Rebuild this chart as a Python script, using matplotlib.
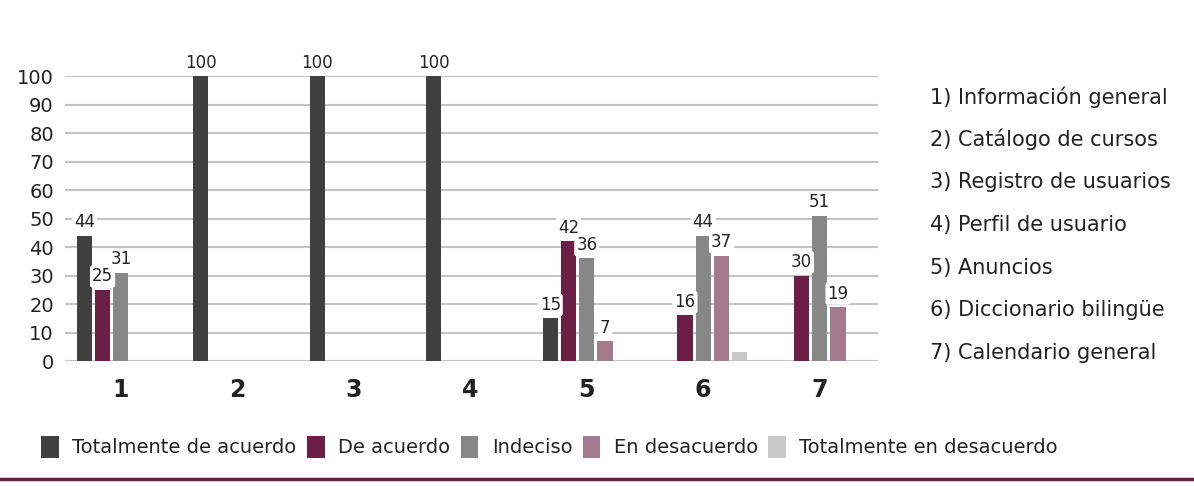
import matplotlib
matplotlib.use("Agg")
import matplotlib.pyplot as plt
import numpy as np
from matplotlib.patches import Patch
from matplotlib.lines import Line2D

groups = ["1", "2", "3", "4", "5", "6", "7"]
series = ["Totalmente de acuerdo", "De acuerdo", "Indeciso", "En desacuerdo", "Totalmente en desacuerdo"]
tot_acuerdo = [44, 100, 100, 100, 15, 0, 0]
de_acuerdo = [25, 0, 0, 0, 42, 16, 30]
indeciso = [31, 0, 0, 0, 36, 44, 51]
en_desacuerdo = [0, 0, 0, 0, 7, 37, 19]
tot_desacuerdo = [0, 0, 0, 0, 0, 3, 0]
show_label = [[True, True, True, True, True, False, False],
              [True, False, False, False, True, True, True],
              [True, False, False, False, True, True, True],
              [False, False, False, False, True, True, True],
              [False, False, False, False, False, False, False]]
items = ["1) Información general", "2) Catálogo de cursos", "3) Registro de usuarios",
         "4) Perfil de usuario", "5) Anuncios", "6) Diccionario bilingüe", "7) Calendario general"]
colors = ["#404040", "#6b1f45", "#878787", "#a67a8e", "#c8c8c8"]

data = [tot_acuerdo, de_acuerdo, indeciso, en_desacuerdo, tot_desacuerdo]

fig = plt.figure(figsize=(11.94, 4.86), dpi=100)
ax = fig.add_axes([0.0544, 0.2572, 0.6809, 0.5864])
x = np.arange(len(groups))
step = 0.157
w = 0.13
for i, vals in enumerate(data):
    pos = x + (i - 2) * step
    ax.bar(pos, vals, width=w, color=colors[i], zorder=3)
    for j, v in enumerate(vals):
        if show_label[i][j]:
            ax.text(pos[j], v + 1.5, str(v), ha="center", va="bottom", fontsize=12,
                    color="#222222", zorder=4, clip_on=False,
                    bbox=dict(boxstyle="round,pad=0.12", fc="white", ec="none"))

ax.set_xlim(-0.48, 6.5)
ax.set_ylim(0, 100)
ax.set_yticks(np.arange(0, 101, 10))
ax.yaxis.grid(True, color="#c4c4c4", linewidth=1.5, zorder=0)
ax.set_axisbelow(True)
for s in ax.spines.values():
    s.set_visible(False)
ax.tick_params(axis="y", length=0, labelsize=14, labelcolor="#222222", pad=8)
ax.tick_params(axis="x", length=0, pad=12)
ax.set_xticks(x)
ax.set_xticklabels(groups, fontsize=17, fontweight="bold", color="#222222")

for k, t in enumerate(items):
    fig.text(0.779, 1 - (97 + k * 42.7) / 486, t, fontsize=15, va="center", ha="left", color="#222222")

handles = [Patch(facecolor=c, edgecolor="none") for c in colors]
fig.legend(handles, series, loc="center left", bbox_to_anchor=(0.02, 1 - 447 / 486), ncol=5,
           frameon=False, fontsize=14, handlelength=0.9, handleheight=1.4, handletextpad=0.7,
           columnspacing=0.53, labelcolor="#222222")

fig.add_artist(Line2D([0, 1], [1 - 479 / 486, 1 - 479 / 486], color="#6b1f45", linewidth=2.5,
                      transform=fig.transFigure))

fig.savefig("out.png", dpi=100)
